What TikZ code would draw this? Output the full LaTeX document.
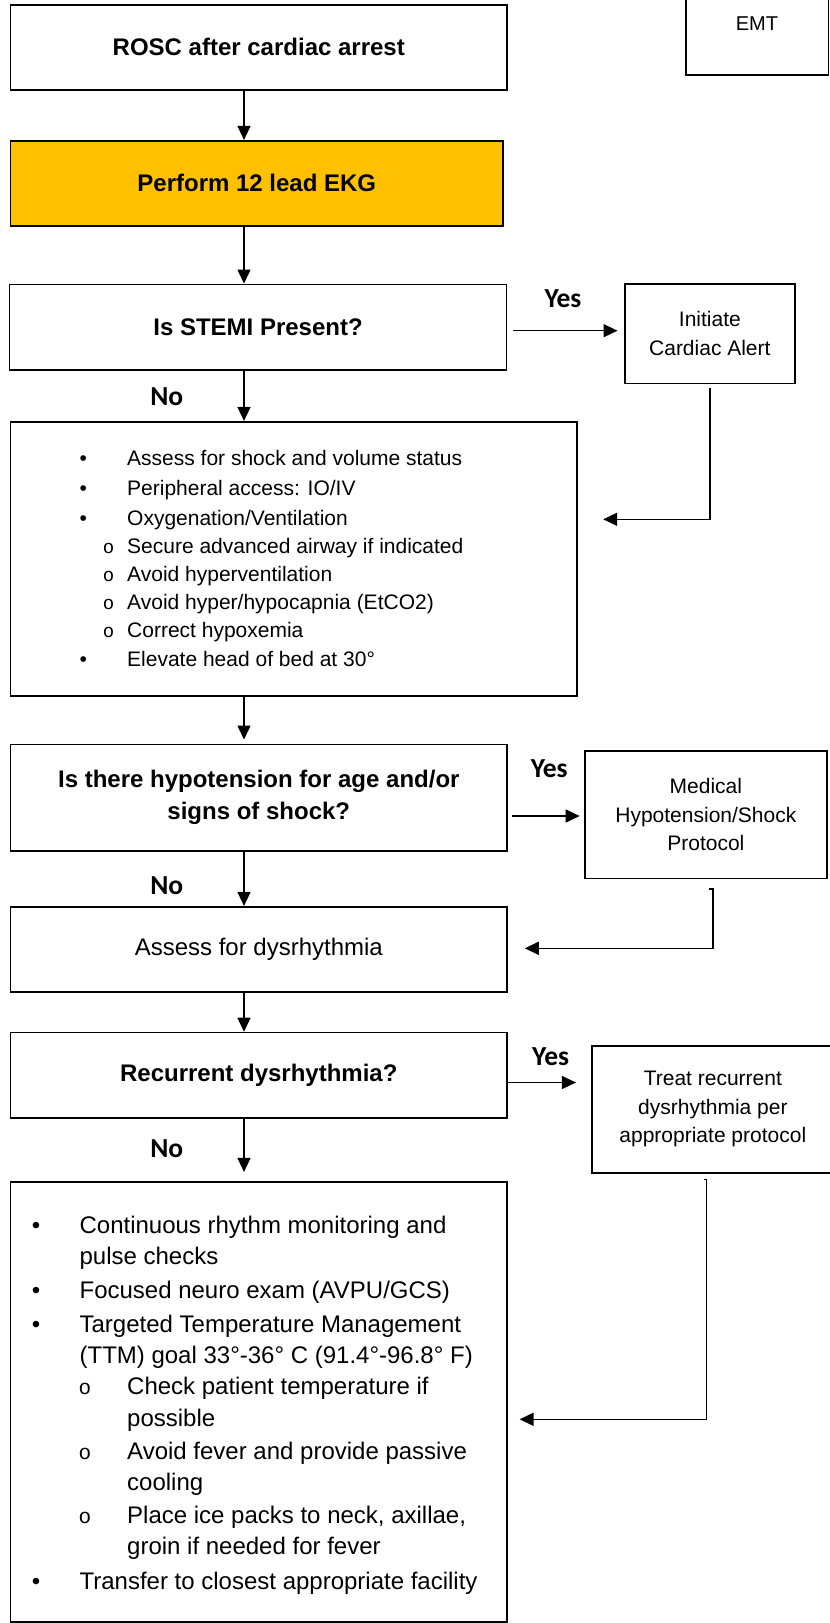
\documentclass[tikz,border=0pt]{standalone}
\usepackage{fontspec}
\setmainfont{Liberation Sans}
\newfontfamily\calfont{Carlito}
\newfontfamily\monofont{Liberation Mono}
\usetikzlibrary{arrows.meta}
\definecolor{ekgorange}{HTML}{FFC000}
\newcommand\bitem[4]{\hbox{\rlap{\hskip#1\makebox[0pt]{#3}}\hskip#2\relax#4}}
\newcommand\gp[1]{\vskip#1\relax}
\newcommand\vlist[1]{\vtop{\baselineskip=0pt\lineskip=0pt\lineskiplimit=-\maxdimen #1}}
\newcommand\subo[1]{{\monofont\fontsize{#1}{#1}\selectfont o}}
\begin{document}
\begin{tikzpicture}[x=1pt,y=-1pt,
 box/.style={draw, line width=1.6pt, inner sep=0pt},
 hd/.style={font=\fontsize{24}{31.7}\selectfont\bfseries, align=center},
 txt/.style={font=\fontsize{21}{28.5}\selectfont, align=center},
 lbl/.style={font=\calfont\fontsize{27.5}{30}\selectfont\bfseries, inner sep=0pt},
 arr/.style={line width=1.5pt, -{Triangle[length=14pt,width=13pt]}},
 listtxt/.style={anchor=base west, inner sep=0pt},
]
\useasboundingbox (0,0) rectangle (830,1623);
\clip (0,0) rectangle (830,1623);

% main column
\node[box, hd, minimum width=496.4, minimum height=85.3] (rosc) at (258.8,47.35) {ROSC after cardiac arrest};
\node[box, hd, fill=ekgorange, minimum width=492.4, minimum height=85.3] (ekg) at (256.8,183.35) {Perform 12 lead EKG};
\node[box, hd, minimum width=497.1, minimum height=85.7] (stemi) at (258.05,327.15) {Is STEMI Present?};
\node[box, txt, minimum width=170.3, minimum height=99.6] (init) at (709.85,333.5) {Initiate\\Cardiac Alert};
\node[box, minimum width=566.4, minimum height=274.3] (b1) at (293.8,558.85) {};
\node[listtxt, font=\fontsize{21}{28}\selectfont] (b1t) at (60,465.3) {\vlist{%
 \bitem{23pt}{67pt}{\textbullet}{Assess for shock and volume status}
 \gp{30pt}\bitem{23pt}{67pt}{\textbullet}{Peripheral access: IO/IV}
 \gp{30pt}\bitem{23pt}{67pt}{\textbullet}{Oxygenation/Ventilation}
 \gp{27.7pt}\bitem{48.5pt}{67pt}{\subo{19}}{Secure advanced airway if indicated}
 \gp{28pt}\bitem{48.5pt}{67pt}{\subo{19}}{Avoid hyperventilation}
 \gp{28.7pt}\bitem{48.5pt}{67pt}{\subo{19}}{Avoid hyper/hypocapnia (EtCO2)}
 \gp{28pt}\bitem{48.5pt}{67pt}{\subo{19}}{Correct hypoxemia}
 \gp{28.6pt}\bitem{23pt}{67pt}{\textbullet}{Elevate head of bed at 30°}}};
\node[box, hd, minimum width=496.4, minimum height=106.4] (hypo) at (258.8,797.5) {Is there hypotension for age and/or\\signs of shock?};
\node[box, txt, minimum width=241.7, minimum height=127.3] (med) at (705.85,814.65) {Medical\\Hypotension/Shock\\Protocol};
\node[box, font=\fontsize{24}{30}\selectfont, minimum width=496.4, minimum height=85] (dys) at (258.8,949.2) {Assess for dysrhythmia};
\node[box, hd, minimum width=496.4, minimum height=85.2] (rec) at (258.8,1075.1) {Recurrent dysrhythmia?};
\node[box, txt, minimum width=242.3, minimum height=127] (treat) at (712.85,1109.2) {Treat recurrent\\dysrhythmia per\\appropriate protocol};
\node[box, minimum width=496.4, minimum height=440] (b2) at (258.8,1401.7) {};
\node[listtxt, font=\fontsize{24}{31}\selectfont] (b2t) at (20,1233) {\vlist{%
 \bitem{16pt}{59.4pt}{\textbullet}{Continuous rhythm monitoring and}
 \gp{31.7pt}\bitem{16pt}{59.4pt}{}{pulse checks}
 \gp{33.3pt}\bitem{16pt}{59.4pt}{\textbullet}{Focused neuro exam (AVPU/GCS)}
 \gp{34pt}\bitem{16pt}{59.4pt}{\textbullet}{Targeted Temperature Management}
 \gp{31pt}\bitem{16pt}{59.4pt}{}{(TTM) goal 33°-36° C (91.4°-96.8° F)}
 \gp{31.7pt}\bitem{64.7pt}{107pt}{\subo{21}}{Check patient temperature if}
 \gp{31.6pt}\bitem{64.7pt}{107pt}{}{possible}
 \gp{33.4pt}\bitem{64.7pt}{107pt}{\subo{21}}{Avoid fever and provide passive}
 \gp{31pt}\bitem{64.7pt}{107pt}{}{cooling}
 \gp{32.3pt}\bitem{64.7pt}{107pt}{\subo{21}}{Place ice packs to neck, axillae,}
 \gp{31pt}\bitem{64.7pt}{107pt}{}{groin if needed for fever}
 \gp{35pt}\bitem{16pt}{59.4pt}{\textbullet}{Transfer to closest appropriate facility}}};

% EMT box
\node[box, minimum width=142.6, minimum height=85] (emt) at (757,32.5) {};
\node[font=\fontsize{20}{24}\selectfont, inner sep=0pt] (emtt) at (757,23.3) {EMT};

% labels
\node[lbl] (yes1) at (563,299) {Yes};
\node[lbl] (no1) at (166.8,397) {No};
\node[lbl] (yes2) at (549.2,768.3) {Yes};
\node[lbl] (no2) at (166.8,885.3) {No};
\node[lbl] (yes3) at (550.6,1056.3) {Yes};
\node[lbl] (no3) at (166.8,1148.7) {No};

% vertical arrows
\coordinate (ax) at (244,0);
\draw[arr] (rosc.south -| ax) -- (ekg.north -| ax);
\draw[arr] (ekg.south -| ax) -- (stemi.north -| ax);
\draw[arr] (stemi.south -| ax) -- (b1.north -| ax);
\draw[arr, shorten >=4pt] (b1.south -| ax) -- (hypo.north -| ax);
\draw[arr] (hypo.south -| ax) -- (dys.north -| ax);
\draw[arr] (dys.south -| ax) -- (rec.north -| ax);
\draw[arr, shorten >=9pt] (rec.south -| ax) -- (b2.north -| ax);

% yes arrows
\coordinate (y1) at (0,330.7);
\draw[arr, shorten <=5.8pt, shorten >=6.4pt] (stemi.east |- y1) -- (init.west |- y1);
\coordinate (y2) at (0,816);
\draw[arr, shorten <=4pt, shorten >=4.5pt] (hypo.east |- y2) -- (med.west |- y2);
\coordinate (y3) at (0,1082.5);
\draw[arr, shorten >=15pt] (rec.east |- y3) -- (treat.west |- y3);

% return connectors
\coordinate (r1) at (0,519.3);
\draw[arr, shorten <=3.4pt, shorten >=25.4pt] (init.south) |- (b1.east |- r1);
\coordinate (m0) at (709,889);
\coordinate (r2) at (0,948.3);
\draw[arr, shorten >=17pt] (m0) -- ++(4,0) |- (dys.east |- r2);
\coordinate (t0) at (703.5,1179.3);
\coordinate (r3) at (0,1419.3);
\draw[arr, shorten >=11.8pt] (t0) -- ++(3.2,0) |- (b2.east |- r3);
\end{tikzpicture}
\end{document}
